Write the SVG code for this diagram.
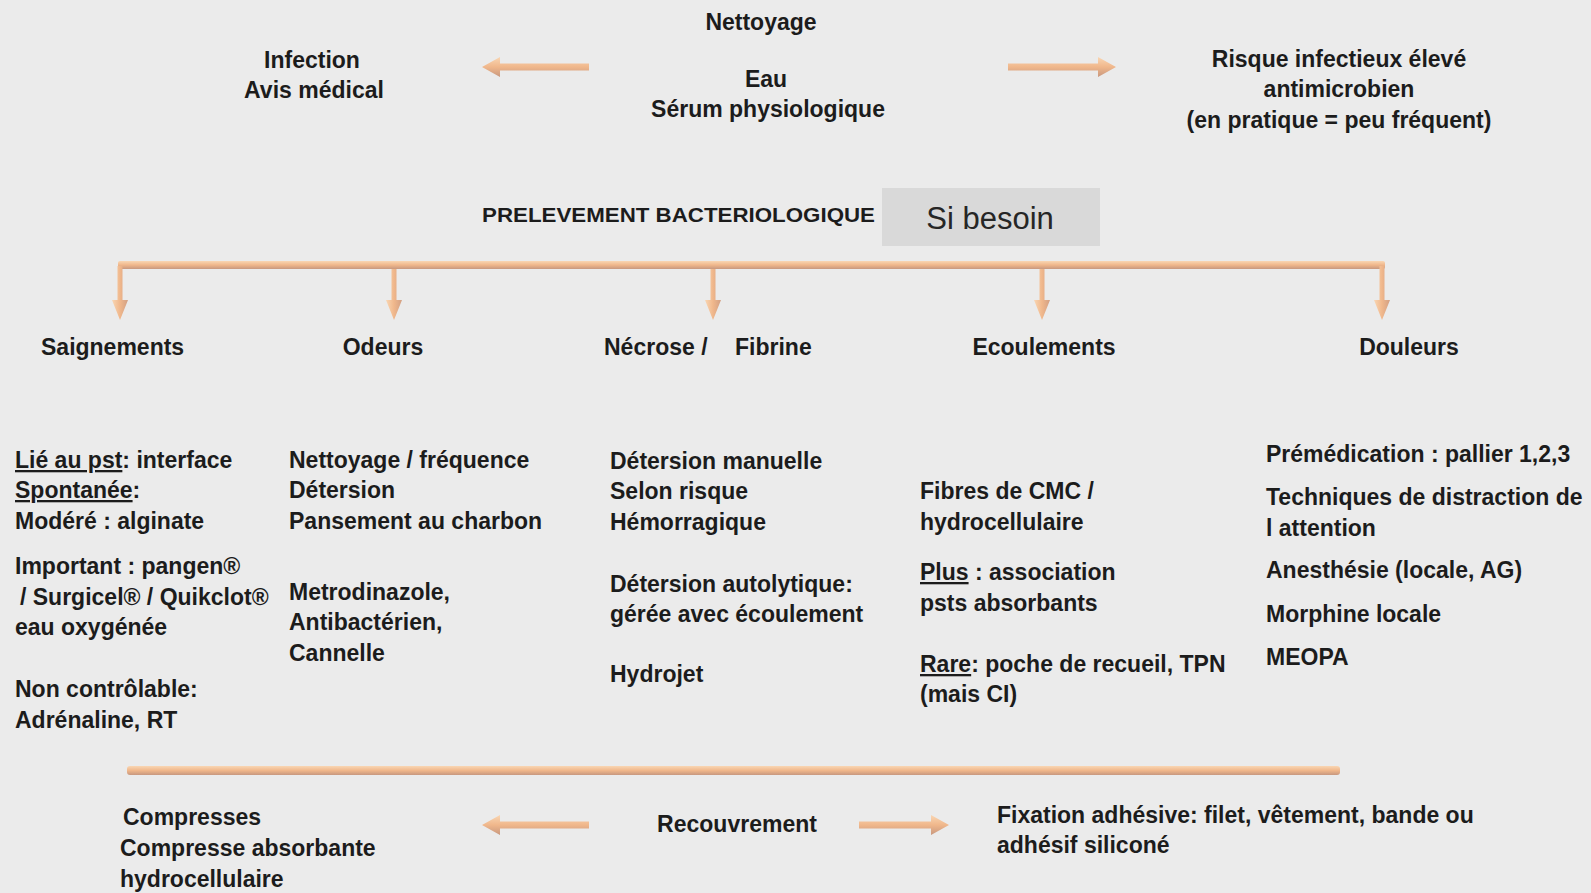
<svg xmlns="http://www.w3.org/2000/svg" width="1591" height="893" viewBox="0 0 1591 893">
<defs>
<linearGradient id="gh" x1="0" y1="0" x2="0" y2="1">
<stop offset="0" stop-color="#f9d6b3"/>
<stop offset="0.5" stop-color="#f0b78b"/>
<stop offset="1" stop-color="#c8987f"/>
</linearGradient>
<linearGradient id="gv" x1="0" y1="0" x2="1" y2="0">
<stop offset="0" stop-color="#f9d6b3"/>
<stop offset="0.5" stop-color="#f0b78b"/>
<stop offset="1" stop-color="#d2a084"/>
</linearGradient>
<style>
.t{font-family:"Liberation Sans",Arial,sans-serif;font-weight:bold;font-size:23px;fill:#1c1c1c}
.c{text-anchor:middle}
.u{text-decoration:underline}
.ah{fill:url(#gh)}
.av{fill:url(#gv)}
.bar{fill:url(#gh)}
</style>
</defs>
<rect width="1591" height="893" fill="#ebebeb"/>

<g id="connectors">
<path class="ah" d="M482,67 L500,57 L500,63.5 L589,63.5 L589,70.5 L500,70.5 L500,77 Z"/>
<path class="ah" d="M1116,67 L1098,57 L1098,63.5 L1008,63.5 L1008,70.5 L1098,70.5 L1098,77 Z"/>
<rect class="bar" x="118" y="261" width="1267" height="8" rx="2"/>
<path class="av" d="M117.5,266 h5 v34 h5.5 L120,320 L112,300 h5.5 Z"/>
<path class="av" d="M391.5,269 h5 v31 h5.5 L394,320 L386,300 h5.5 Z"/>
<path class="av" d="M710.5,269 h5 v31 h5.5 L713,320 L705,300 h5.5 Z"/>
<path class="av" d="M1039.5,269 h5 v31 h5.5 L1042,320 L1034,300 h5.5 Z"/>
<path class="av" d="M1379.5,266 h5 v34 h5.5 L1382,320 L1374,300 h5.5 Z"/>
<rect class="bar" x="127" y="766" width="1213" height="9" rx="3"/>
<path class="ah" d="M482,825 L500,815 L500,821.5 L589,821.5 L589,828.5 L500,828.5 L500,835 Z"/>
<path class="ah" d="M949,825 L931,815 L931,821.5 L859,821.5 L859,828.5 L931,828.5 L931,835 Z"/>
</g>

<g id="nettoyage">
<text class="t c" x="761" y="30">Nettoyage</text>
<text class="t c" x="766" y="87">Eau</text>
<text class="t c" x="768" y="117">Sérum physiologique</text>
</g>

<g id="infection">
<text class="t c" x="312" y="68">Infection</text>
<text class="t c" x="314" y="98">Avis médical</text>
</g>

<g id="risque">
<text class="t c" x="1339" y="67">Risque infectieux élevé</text>
<text class="t c" x="1339" y="97">antimicrobien</text>
<text class="t c" x="1339" y="128">(en pratique = peu fréquent)</text>
</g>

<g id="prelevement">
<text x="482" y="222" font-family="Liberation Sans,Arial,sans-serif" font-weight="bold" font-size="20" fill="#1c1c1c" textLength="393" lengthAdjust="spacingAndGlyphs">PRELEVEMENT BACTERIOLOGIQUE</text>
</g>

<g id="si-besoin">
<rect x="882" y="188" width="218" height="58" fill="#d9d9d9"/>
<text x="990" y="229" text-anchor="middle" font-family="Liberation Sans,Arial,sans-serif" font-size="31" fill="#262626">Si besoin</text>
</g>

<g id="saignements">
<text class="t" x="41" y="355">Saignements</text>
<text class="t" x="15" y="468"><tspan class="u">Lié au pst</tspan>: interface</text>
<text class="t" x="15" y="498"><tspan class="u">Spontanée</tspan>:</text>
<text class="t" x="15" y="529">Modéré : alginate</text>
<text class="t" x="15" y="574">Important : pangen®</text>
<text class="t" x="20" y="605">/ Surgicel® / Quikclot®</text>
<text class="t" x="15" y="635">eau oxygénée</text>
<text class="t" x="15" y="697">Non contrôlable:</text>
<text class="t" x="15" y="728">Adrénaline, RT</text>
</g>

<g id="odeurs">
<text class="t c" x="383" y="355">Odeurs</text>
<text class="t" x="289" y="468">Nettoyage / fréquence</text>
<text class="t" x="289" y="498">Détersion</text>
<text class="t" x="289" y="529">Pansement au charbon</text>
<text class="t" x="289" y="600">Metrodinazole,</text>
<text class="t" x="289" y="630">Antibactérien,</text>
<text class="t" x="289" y="661">Cannelle</text>
</g>

<g id="necrose">
<text class="t" x="604" y="355">Nécrose /</text>
<text class="t" x="735" y="355">Fibrine</text>
<text class="t" x="610" y="469">Détersion manuelle</text>
<text class="t" x="610" y="499">Selon risque</text>
<text class="t" x="610" y="530">Hémorragique</text>
<text class="t" x="610" y="592">Détersion autolytique:</text>
<text class="t" x="610" y="622">gérée avec écoulement</text>
<text class="t" x="610" y="682">Hydrojet</text>
</g>

<g id="ecoulements">
<text class="t c" x="1044" y="355">Ecoulements</text>
<text class="t" x="920" y="499">Fibres de CMC /</text>
<text class="t" x="920" y="530">hydrocellulaire</text>
<text class="t" x="920" y="580"><tspan class="u">Plus</tspan> : association</text>
<text class="t" x="920" y="611">psts absorbants</text>
<text class="t" x="920" y="672"><tspan class="u">Rare</tspan>: poche de recueil, TPN</text>
<text class="t" x="920" y="702">(mais CI)</text>
</g>

<g id="douleurs">
<text class="t c" x="1409" y="355">Douleurs</text>
<text class="t" x="1266" y="462">Prémédication : pallier 1,2,3</text>
<text class="t" x="1266" y="505">Techniques de distraction de</text>
<text class="t" x="1266" y="536">l attention</text>
<text class="t" x="1266" y="578">Anesthésie (locale, AG)</text>
<text class="t" x="1266" y="622">Morphine locale</text>
<text class="t" x="1266" y="665">MEOPA</text>
</g>

<g id="compresses">
<text class="t" x="123" y="825">Compresses</text>
<text class="t" x="120" y="856">Compresse absorbante</text>
<text class="t" x="120" y="887">hydrocellulaire</text>
</g>

<g id="recouvrement">
<text class="t c" x="737" y="832">Recouvrement</text>
</g>

<g id="fixation">
<text class="t" x="997" y="823">Fixation adhésive: filet, vêtement, bande ou</text>
<text class="t" x="997" y="853">adhésif siliconé</text>
</g>
</svg>
